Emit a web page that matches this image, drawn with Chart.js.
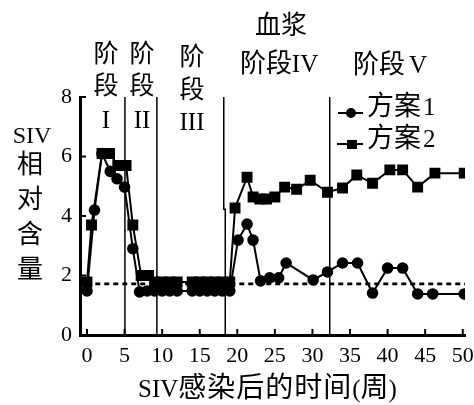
<!DOCTYPE html>
<html>
<head>
<meta charset="utf-8">
<script src="https://cdn.jsdelivr.net/npm/chart.js@4"></script>
<style>
  html, body { margin: 0; padding: 0; background: #fff; }
  #wrap { width: 474px; height: 405px; }
</style>
</head>
<body>
<div id="wrap"><canvas id="myChart"></canvas></div>
<script>
// weeks after infection and relative SIV content
var weeks1 = [0, 1, 2, 3.1, 4, 5, 6.1, 7, 8, 9, 10, 11, 12, 14, 15, 16, 17, 18, 19,
    20.1, 21.3, 22.1, 23.1, 24.3, 25.5, 26.5, 30.1, 32, 34, 36, 38, 40, 42, 44, 46, 50.2];
var plan1 = [1.48, 4.2, 6.1, 5.5, 5.25, 4.97, 2.9, 1.45, 1.48, 1.48, 1.48, 1.48, 1.48, 1.48, 1.48, 1.48, 1.48, 1.48, 1.48,
    3.19, 3.73, 3.19, 1.82, 1.92, 1.92, 2.42, 1.85, 2.12, 2.42, 2.42, 1.41, 2.25, 2.25, 1.38, 1.38, 1.38];

var weeks2 = [0, 0.6, 2, 3, 4.1, 5.2, 6.1, 7.2, 8.2, 9, 10, 11, 12, 14, 15, 16, 17, 18, 19,
    19.7, 21.3, 22.1, 23, 23.9, 25, 26.3, 27.9, 29.7, 32, 34, 35.9, 38, 40.3, 42, 44, 46.3, 50.2];
var plan2 = [1.78, 3.7, 6.1, 6.1, 5.7, 5.7, 3.7, 2.0, 2.0, 1.78, 1.78, 1.78, 1.78, 1.78, 1.78, 1.78, 1.78, 1.78, 1.78,
    4.27, 5.3, 4.64, 4.57, 4.57, 4.64, 4.97, 4.9, 5.2, 4.8, 4.94, 5.38, 5.1, 5.55, 5.55, 4.97, 5.44, 5.44];

var baseX = [1.1, 50.3];
var baseY = 1.72;

// phase boundaries (weeks); the third one has a small jog below y = 4.23
var phaseX = [5.05, 9.3, 18.2, 32.3];
var phaseJogX = 18.4;
var phaseJogY = 4.23;

var xTicks = [0, 5, 10, 15, 20, 25, 30, 35, 40, 45, 50];
var yTicks = [0, 2, 4, 6, 8];

var serif = '"Liberation Serif", "Noto Sans CJK SC", serif';

function pts(xs, ys) {
    return xs.map(function (x, i) { return { x: x, y: ys[i] }; });
}

var datasets = [
    {
        label: '方案1',
        data: pts(weeks1, plan1),
        showLine: true,
        borderColor: '#000',
        backgroundColor: '#000',
        borderWidth: 2,
        pointStyle: 'circle',
        pointRadius: 4.8,
        pointHoverRadius: 4.8
    },
    {
        label: '方案2',
        data: pts(weeks2, plan2),
        showLine: true,
        borderColor: '#000',
        backgroundColor: '#000',
        borderWidth: 2,
        pointStyle: 'rect',
        pointRadius: 6.3,
        pointHoverRadius: 6.3
    },
    {
        label: 'base',
        data: baseX.map(function (x) { return { x: x, y: baseY }; }),
        showLine: true,
        borderColor: '#000',
        borderWidth: 2.6,
        borderDash: [5, 4],
        pointRadius: 0
    }
];

phaseX.forEach(function (x, i) {
    var line = [{ x: x, y: 0 }, { x: x, y: 8 }];
    if (i === 2) {
        line = [{ x: phaseJogX, y: 0 }, { x: phaseJogX, y: phaseJogY }, { x: x, y: phaseJogY }, { x: x, y: 8 }];
    }
    datasets.push({
        label: 'phase',
        data: line,
        showLine: true,
        borderColor: '#000',
        borderWidth: 1.5,
        pointRadius: 0
    });
});

function text(ctx, s, x, y, size, align) {
    ctx.font = size + 'px ' + serif;
    ctx.textAlign = align || 'center';
    ctx.textBaseline = 'middle';
    ctx.fillText(s, x, y);
}

var decor = {
    id: 'decor',
    afterDraw: function (chart) {
        var ctx = chart.ctx;
        var xs = chart.scales.x, ys = chart.scales.y;
        var area = chart.chartArea;
        ctx.save();
        ctx.strokeStyle = '#000';
        ctx.fillStyle = '#000';
        ctx.lineWidth = 2;
        // inward tick marks
        xTicks.forEach(function (v) {
            var px = xs.getPixelForValue(v);
            ctx.beginPath();
            ctx.moveTo(px, area.bottom);
            ctx.lineTo(px, area.bottom - 6);
            ctx.stroke();
        });
        yTicks.forEach(function (v) {
            var py = ys.getPixelForValue(v);
            ctx.beginPath();
            ctx.moveTo(area.left, py);
            ctx.lineTo(area.left + 6, py);
            ctx.stroke();
        });

        // phase labels
        text(ctx, '阶', 106, 55, 25);
        text(ctx, '段', 106, 87, 25);
        text(ctx, 'I', 106, 121, 25);
        text(ctx, '阶', 142, 55, 25);
        text(ctx, '段', 142, 87, 25);
        text(ctx, 'II', 142, 121, 25);
        text(ctx, '阶', 192, 58, 25);
        text(ctx, '段', 192, 91, 25);
        text(ctx, 'III', 192, 123, 25);
        text(ctx, '血浆', 281, 27, 26);
        text(ctx, '阶段', 266, 65, 26);
        text(ctx, 'IV', 305, 65, 25);
        text(ctx, '阶段', 379, 66, 26);
        text(ctx, 'V', 418, 66, 25);

        // y title
        text(ctx, 'SIV', 32, 137, 24);
        text(ctx, '相', 30, 166, 26);
        text(ctx, '对', 30, 201, 26);
        text(ctx, '含', 30, 236, 26);
        text(ctx, '量', 30, 271, 26);

        // x title, laid out piece by piece
        var tx = 138, ty = 390;
        var parts = [['SIV', 25, 0], ['感', 28, 1], ['染', 28, 1], ['后', 28, 1], ['的', 28, 1],
            ['时', 28, 1], ['间', 28, 1], ['(', 25, 0], ['周', 28, 0], [')', 25, 0]];
        parts.forEach(function (p) {
            ctx.font = p[1] + 'px ' + serif;
            ctx.textAlign = 'left';
            ctx.textBaseline = 'middle';
            ctx.fillText(p[0], tx, ty);
            tx += ctx.measureText(p[0]).width + p[2];
        });

        // legend
        ctx.lineWidth = 2;
        ctx.beginPath();
        ctx.moveTo(338, 113);
        ctx.lineTo(363, 113);
        ctx.stroke();
        ctx.beginPath();
        ctx.arc(351, 113, 5, 0, Math.PI * 2);
        ctx.fill();
        text(ctx, '方案', 367, 108, 27, 'left');
        text(ctx, '1', 423, 108, 25, 'left');
        ctx.beginPath();
        ctx.moveTo(337, 144);
        ctx.lineTo(363, 144);
        ctx.stroke();
        ctx.fillRect(347, 140, 10, 9);
        text(ctx, '方案', 367, 140, 27, 'left');
        text(ctx, '2', 423, 140, 25, 'left');
        ctx.restore();
    }
};

var ctx = document.getElementById('myChart').getContext('2d');

var config = {
    type: 'scatter',
    data: { datasets: datasets },
    options: {
        responsive: true,
        maintainAspectRatio: false,
        animation: false,
        layout: { padding: { top: 97, right: 9, left: 0, bottom: 0 } },
        plugins: {
            legend: { display: false },
            tooltip: { enabled: false }
        },
        scales: {
            x: {
                type: 'linear',
                min: -0.93,
                max: 50.3,
                afterBuildTicks: function (s) {
                    s.ticks = xTicks.map(function (v) { return { value: v }; });
                },
                afterFit: function (s) {
                    s.height = 70;
                    s.paddingLeft = 0;
                    s.paddingRight = 0;
                },
                ticks: {
                    autoSkip: false,
                    maxRotation: 0,
                    padding: 8,
                    color: '#000',
                    font: { family: serif, size: 22 }
                },
                grid: { display: false, drawTicks: false },
                border: { display: true, color: '#000', width: 3 }
            },
            y: {
                min: 0,
                max: 8,
                afterBuildTicks: function (s) {
                    s.ticks = yTicks.map(function (v) { return { value: v }; });
                },
                afterFit: function (s) {
                    s.width = 80;
                    s.paddingTop = 0;
                    s.paddingBottom = 0;
                },
                ticks: {
                    padding: 8,
                    color: '#000',
                    font: { family: serif, size: 22 }
                },
                grid: { display: false, drawTicks: false },
                border: { display: true, color: '#000', width: 3 }
            }
        }
    },
    plugins: [decor]
};

var myChart = new Chart(ctx, config);
</script>
</body>
</html>
